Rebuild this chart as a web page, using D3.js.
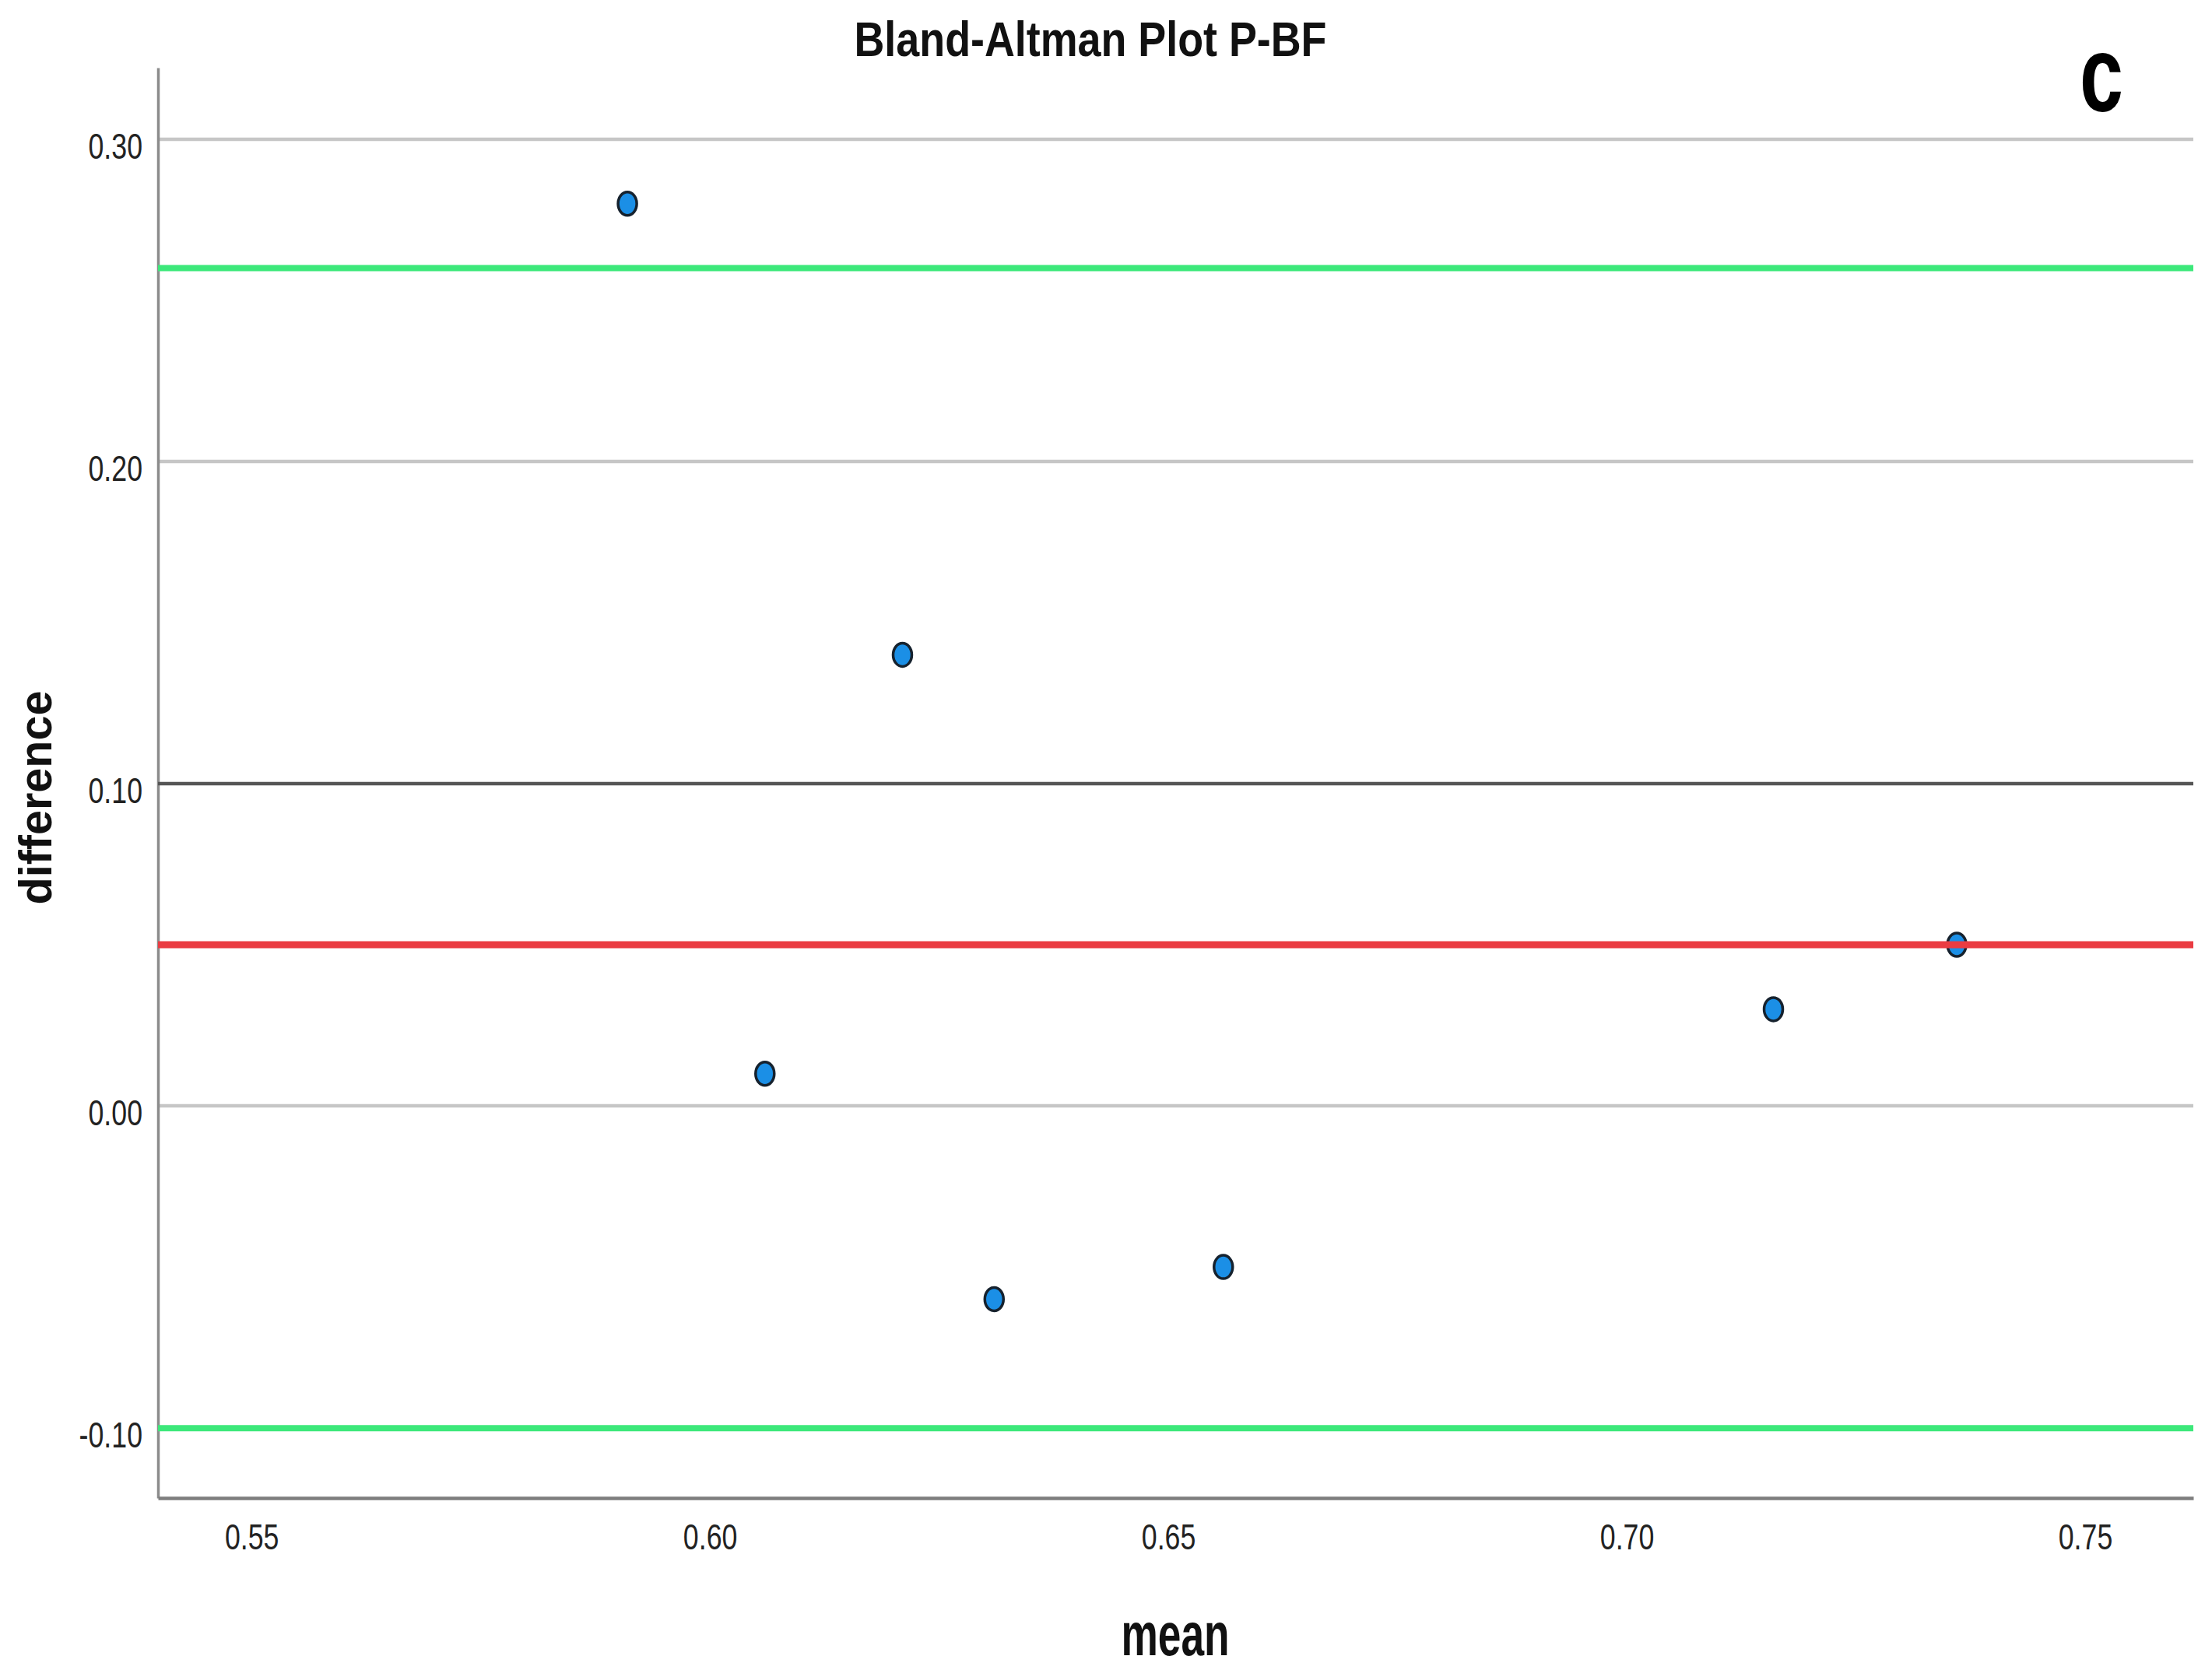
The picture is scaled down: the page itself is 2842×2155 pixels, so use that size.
<!DOCTYPE html>
<html><head><meta charset="utf-8">
<script src="https://cdn.jsdelivr.net/npm/d3@7"></script>
<style>body{margin:0;background:#fff}</style>
</head><body>
<svg id="chart" width="2842" height="2155"></svg>
<script>
// ---- data ----
const meanValues = [0.591, 0.606, 0.621, 0.631, 0.656, 0.716, 0.736];
const diffValues = [0.28, 0.01, 0.14, -0.06, -0.05, 0.03, 0.05];
const xTicks = [0.55, 0.60, 0.65, 0.70, 0.75];
const xTickLabels = ["0.55", "0.60", "0.65", "0.70", "0.75"];
const yTicks = [-0.10, 0.00, 0.10, 0.20, 0.30];
const yTickLabels = ["-0.10", "0.00", "0.10", "0.20", "0.30"];
const gridValues = [0.00, 0.20, 0.30];
const refLineValues = [0.10];
const limitValues = [0.26, -0.10];
const biasValues = [0.05];
const titleText = "Bland-Altman Plot P-BF";
const panelLabel = "c";
const xTitle = "mean";
const yTitle = "difference";

// ---- layout ----
const svg = d3.select("#chart");
const L = 203, R = 2818, T = 87, B = 1925;
const x = d3.scaleLinear().domain([0.5398, 0.7618]).range([L, R]);
const y = d3.scaleLinear().domain([-0.1217, 0.3222]).range([B, T]);

function condense(sel, f) {
  sel.each(function () {
    const w = this.getComputedTextLength();
    this.setAttribute("textLength", w * f);
    this.setAttribute("lengthAdjust", "spacingAndGlyphs");
  });
}
function fitTo(sel, w) {
  sel.attr("textLength", w).attr("lengthAdjust", "spacingAndGlyphs");
}

svg.append("rect").attr("width", 2842).attr("height", 2155).attr("fill", "#fff");

// gridlines
svg.append("g").selectAll("line").data(gridValues).join("line")
  .attr("x1", L).attr("x2", R)
  .attr("y1", d => y(d)).attr("y2", d => y(d))
  .attr("stroke", "#c6c6c6").attr("stroke-width", 4.5);

// axes
const yAxis = svg.append("g").attr("transform", `translate(${L},0)`)
  .call(d3.axisLeft(y).tickValues(yTicks).tickSize(0).tickSizeOuter(0).tickPadding(20)
    .tickFormat((d, i) => yTickLabels[i]));
yAxis.select(".domain").attr("stroke", "#8c8c8c").attr("stroke-width", 3.5);
yAxis.selectAll("text").attr("font-family", "Liberation Sans, Arial, sans-serif")
  .attr("font-size", 47).attr("fill", "#222").attr("dy", "0.52em");
condense(yAxis.selectAll("text"), 0.76);

const xAxis = svg.append("g").attr("transform", `translate(0,${B})`)
  .call(d3.axisBottom(x).tickValues(xTicks).tickSize(0).tickSizeOuter(0).tickPadding(33)
    .tickFormat((d, i) => xTickLabels[i]));
xAxis.select(".domain").attr("stroke", "#7e7e7e").attr("stroke-width", 4.5);
xAxis.selectAll("text").attr("font-family", "Liberation Sans, Arial, sans-serif")
  .attr("font-size", 47).attr("fill", "#222");
condense(xAxis.selectAll("text"), 0.76);

// points
svg.append("g").selectAll("ellipse").data(meanValues).join("ellipse")
  .attr("cx", d => x(d)).attr("cy", (d, i) => y(diffValues[i]))
  .attr("rx", 12).attr("ry", 15)
  .attr("fill", "#1b8fe6").attr("stroke", "#16222e").attr("stroke-width", 3.5);

// reference line (dark)
svg.append("g").selectAll("line").data(refLineValues).join("line")
  .attr("x1", L).attr("x2", R)
  .attr("y1", d => y(d)).attr("y2", d => y(d))
  .attr("stroke", "#555").attr("stroke-width", 4.5);

// limits of agreement
svg.append("g").selectAll("line").data(limitValues).join("line")
  .attr("x1", L).attr("x2", R)
  .attr("y1", d => y(d)).attr("y2", d => y(d))
  .attr("stroke", "#3ce87a").attr("stroke-width", 8);

// bias line
svg.append("g").selectAll("line").data(biasValues).join("line")
  .attr("x1", L).attr("x2", R)
  .attr("y1", d => y(d)).attr("y2", d => y(d))
  .attr("stroke", "#ea3c42").attr("stroke-width", 9);

// titles
svg.append("text").attr("x", 1401).attr("y", 72).attr("text-anchor", "middle")
  .attr("font-family", "Liberation Sans, Arial, sans-serif").attr("font-weight", "bold")
  .attr("font-size", 63).attr("fill", "#111").text(titleText).call(fitTo, 607);

svg.append("text").attr("x", 2700).attr("y", 143).attr("text-anchor", "middle")
  .attr("font-family", "Liberation Sans, Arial, sans-serif").attr("font-weight", "bold")
  .attr("font-size", 140).attr("fill", "#000").text(panelLabel).call(fitTo, 56);

svg.append("text").attr("x", 1510).attr("y", 2127).attr("text-anchor", "middle")
  .attr("font-family", "Liberation Sans, Arial, sans-serif").attr("font-weight", "bold")
  .attr("font-size", 78).attr("fill", "#111").text(xTitle).call(fitTo, 139);

svg.append("text").attr("transform", "translate(66,1025) rotate(-90)").attr("text-anchor", "middle")
  .attr("font-family", "Liberation Sans, Arial, sans-serif").attr("font-weight", "bold")
  .attr("font-size", 60).attr("fill", "#111").text(yTitle).call(fitTo, 275);
</script>
</body></html>
